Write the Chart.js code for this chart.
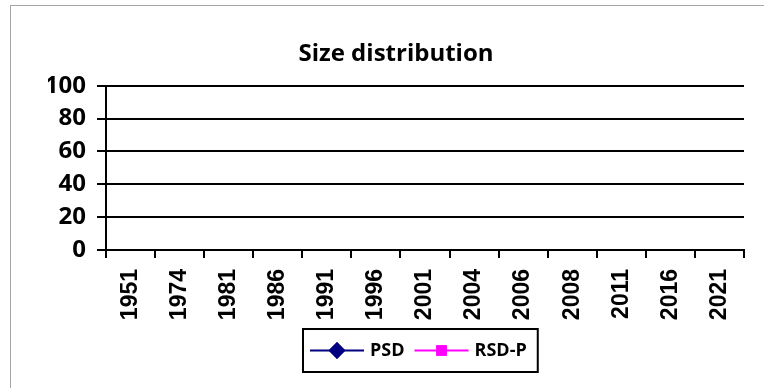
<!DOCTYPE html>
<html>
<head>
<meta charset="utf-8">
<script src="https://cdn.jsdelivr.net/npm/chart.js@4.4.1/dist/chart.umd.min.js"></script>
<style>
  html, body { margin: 0; padding: 0; background: #fff; overflow: hidden; }
  #wrap { position: relative; width: 764px; height: 388px; }
  #frame { position: absolute; left: 10px; top: 5px; width: 760px; height: 390px;
           border-top: 1px solid #a6a6a6; border-left: 1px solid #a6a6a6; }
  #chart { position: absolute; left: 0; top: 0; }
</style>
</head>
<body>
<div id="wrap">
  <div id="frame"></div>
  <canvas id="chart" width="764" height="388"></canvas>
</div>
<script>
const years = ["1951", "1974", "1981", "1986", "1991", "1996", "2001", "2004", "2006", "2008", "2011", "2016", "2021"];
// the reference plot has no visible points, so both series are empty
const psdValues = [null, null, null, null, null, null, null, null, null, null, null, null, null];
const rsdpValues = [null, null, null, null, null, null, null, null, null, null, null, null, null];
const yTicks = [0, 20, 40, 60, 80, 100];

// legend drawn as in the original: line + marker inside a black box
const boxLegend = {
    id: "boxLegend",
    afterDraw(chart) {
        const ctx = chart.ctx;
        const area = chart.chartArea;
        const lineLen = 54, padL = 7, padR = 11, textGap = 6, itemGap = 10;
        ctx.save();
        ctx.font = "bold 18px 'Open Sans'";
        const items = chart.data.datasets.map(ds => ({ ds, w: ctx.measureText(ds.label).width }));
        let width = padL + padR;
        items.forEach((it, i) => { width += lineLen + textGap + it.w + (i < items.length - 1 ? itemGap : 0); });
        const boxH = 43;
        const cx = (area.left + area.right) / 2 - 5;
        const left = Math.round(cx - width / 2);
        const top = area.bottom + 79;
        const midY = top + boxH / 2;

        ctx.strokeStyle = "#000";
        ctx.lineWidth = 2;
        ctx.strokeRect(left, top, width, boxH);

        let x = left + padL;
        items.forEach(it => {
            const ds = it.ds;
            ctx.strokeStyle = ds.borderColor;
            ctx.lineWidth = 2;
            ctx.beginPath();
            ctx.moveTo(x, midY);
            ctx.lineTo(x + lineLen, midY);
            ctx.stroke();
            Chart.helpers.drawPoint(ctx, {
                pointStyle: ds.pointStyle,
                radius: ds.pointRadius,
                rotation: 0,
                borderWidth: 1
            }, x + lineLen / 2, midY);
            ctx.fillStyle = ds.pointBackgroundColor;
            ctx.strokeStyle = ds.pointBorderColor;
            ctx.beginPath();
            Chart.helpers.drawPoint(ctx, {
                pointStyle: ds.pointStyle,
                radius: ds.pointRadius,
                rotation: 0,
                borderWidth: 1
            }, x + lineLen / 2, midY);
            x += lineLen + textGap;
            ctx.fillStyle = "#000";
            ctx.textAlign = "left";
            ctx.textBaseline = "middle";
            ctx.fillText(ds.label, x, midY);
            x += it.w + itemGap;
        });
        ctx.restore();
    }
};

new Chart(document.getElementById("chart"), {
    type: "line",
    data: {
        labels: years,
        datasets: [
            {
                label: "PSD",
                data: psdValues,
                borderColor: "#000080",
                backgroundColor: "#000080",
                pointBackgroundColor: "#000080",
                pointBorderColor: "#000080",
                pointStyle: "rectRot",
                pointRadius: 7,
                borderWidth: 2
            },
            {
                label: "RSD-P",
                data: rsdpValues,
                borderColor: "#ff00ff",
                backgroundColor: "#ff00ff",
                pointBackgroundColor: "#ff00ff",
                pointBorderColor: "#ff00ff",
                pointStyle: "rect",
                pointRadius: 6,
                borderWidth: 2
            }
        ]
    },
    options: {
        responsive: false,
        animation: false,
        layout: { padding: { left: 48, right: 20, top: 0, bottom: 58 } },
        plugins: {
            legend: { display: false },
            tooltip: { enabled: false },
            title: {
                display: true,
                text: "Size distribution",
                color: "#000",
                font: { family: "'Open Sans'", size: 24, weight: "bold" },
                padding: { top: 40, bottom: 17 }
            }
        },
        scales: {
            x: {
                type: "category",
                offset: true,
                grid: {
                    offset: true,
                    drawOnChartArea: false,
                    drawTicks: true,
                    tickLength: 8,
                    color: "#000",
                    lineWidth: 2
                },
                border: { display: true, color: "#000", width: 2 },
                ticks: {
                    color: "#000",
                    autoSkip: false,
                    minRotation: 90,
                    maxRotation: 90,
                    padding: 11,
                    font: { family: "'Liberation Sans'", size: 23, weight: "bold" }
                },
                afterFit: s => { s.height = 80; }
            },
            y: {
                min: 0,
                max: 100,
                afterBuildTicks: s => { s.ticks = yTicks.map(v => ({ value: v })); },
                grid: { color: "#000", lineWidth: 2, tickLength: 9 },
                border: { display: true, color: "#000", width: 2 },
                ticks: {
                    color: "#000",
                    padding: 11,
                    font: { family: "'Open Sans'", size: 24, weight: "bold" }
                },
                afterFit: s => { s.width = 58; }
            }
        }
    },
    plugins: [boxLegend]
});
</script>
</body>
</html>
